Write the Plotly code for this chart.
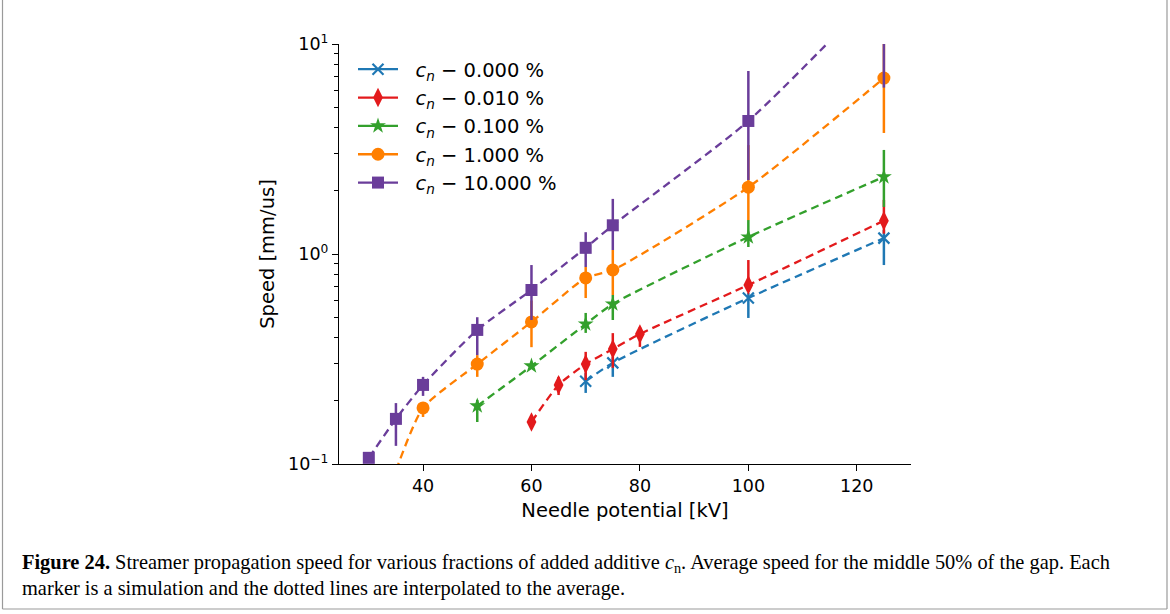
import plotly.graph_objects as go

# ---- data ----
kv_c0 = [70, 75, 100, 125]
sp_c0 = [0.248, 0.303, 0.617, 1.19]
hi_c0 = [0.271, 0.323, 0.652, 1.30]
lo_c0 = [0.218, 0.260, 0.496, 0.886]

kv_c001 = [60, 65, 70, 75, 80, 100, 125]
sp_c001 = [0.1585, 0.238, 0.299, 0.353, 0.416, 0.712, 1.44]
hi_c001 = [0.165, 0.260, 0.342, 0.420, 0.449, 0.936, 1.81]
lo_c001 = [0.152, 0.213, 0.251, 0.287, 0.361, 0.674, 1.25]

kv_c01 = [50, 60, 70, 75, 100, 125]
sp_c01 = [0.189, 0.293, 0.464, 0.578, 1.205, 2.33]
hi_c01 = [0.202, 0.307, 0.524, 0.638, 1.452, 3.13]
lo_c01 = [0.1585, 0.2865, 0.421, 0.485, 1.08, 1.675]

kv_c1 = [35, 40, 50, 60, 70, 75, 100, 125]
sp_c1 = [0.093, 0.185, 0.299, 0.475, 0.769, 0.839, 2.08, 6.88]
hi_c1 = [0.099, 0.197, 0.330, 0.600, 0.867, 1.045, 3.30, 10.5]
lo_c1 = [0.085, 0.1675, 0.260, 0.360, 0.617, 0.638, 1.45, 3.77]

kv_c10 = [30, 35, 40, 50, 60, 70, 75, 100, 125]
sp_c10 = [0.107, 0.164, 0.238, 0.435, 0.674, 1.07, 1.37, 4.30, 19.0]
hi_c10 = [0.112, 0.195, 0.260, 0.500, 0.886, 1.27, 1.83, 7.44, 30.0]
lo_c10 = [0.102, 0.122, 0.211, 0.330, 0.485, 0.867, 1.045, 2.25, 6.2]

labels = ["0.000", "0.010", "0.100", "1.000", "10.000"]
x_ticks = [40, 60, 80, 100, 120]
y_ticks = [0.1, 1, 10]
y_ticktext = ["10<sup>−1</sup>", "10<sup>0</sup>", "10<sup>1</sup>"]
y_minor = [0.2, 0.3, 0.4, 0.5, 0.6, 0.7, 0.8, 0.9, 2, 3, 4, 5, 6, 7, 8, 9]

series = [
    (kv_c0, sp_c0, hi_c0, lo_c0, "#1f78b4", "x-thin", 11),
    (kv_c001, sp_c001, hi_c001, lo_c001, "#e31a1c", "diamond-tall", 14),
    (kv_c01, sp_c01, hi_c01, lo_c01, "#33a02c", "star", 12),
    (kv_c1, sp_c1, hi_c1, lo_c1, "#ff7f00", "circle", 13),
    (kv_c10, sp_c10, hi_c10, lo_c10, "#6a3d9a", "square", 12),
]

FONT = "DejaVu Sans"
L, R, T, B = 339, 911, 44, 464  # plot area in pixels
W, H = 1170, 614


def px_x(px):
    return (px - L) / (R - L)


def px_y(py):
    return (B - py) / (B - T)


fig = go.Figure()

for (kv, sp, hi, lo, col, sym, size), lab in zip(series, labels):
    name = f"&nbsp;&nbsp;<i>c</i><sub><i>n</i></sub> − {lab} %"
    fig.add_trace(go.Scatter(x=kv, y=sp, mode="lines", showlegend=False,
                             line=dict(color=col, width=2.3, dash="8px,5px", shape="spline", smoothing=0.6),
                             hoverinfo="skip"))
    marker = dict(color=col, size=size, symbol=sym, line=dict(width=0, color=col))
    if sym == "x-thin":
        marker["line"] = dict(width=2.2, color=col)
    fig.add_trace(go.Scatter(
        x=kv, y=sp, mode="markers", showlegend=False, marker=marker,
        error_y=dict(type="data", symmetric=False,
                     array=[h - s for h, s in zip(hi, sp)],
                     arrayminus=[s - l for s, l in zip(sp, lo)],
                     color=col, thickness=2.5, width=0)))
    fig.add_trace(go.Scatter(x=[None], y=[None], mode="lines+markers", name=name,
                             line=dict(color=col, width=2.3), marker=marker))

fig.update_layout(
    width=W, height=H,
    paper_bgcolor="white", plot_bgcolor="white",
    margin=dict(l=L, r=W - R, t=T, b=H - B, autoexpand=False),
    font=dict(family=FONT, size=17, color="black"),
    legend=dict(x=px_x(353), y=px_y(50), xanchor="left", yanchor="top",
                bgcolor="rgba(255,255,255,0)", font=dict(family=FONT, size=19.5),
                itemwidth=40, tracegroupgap=0),
    showlegend=True,
)

fig.update_xaxes(range=[24.5, 130], tickvals=x_ticks, ticks="outside", ticklen=6,
                 tickwidth=1.3, tickcolor="black", showline=True, linecolor="black",
                 linewidth=1.3, showgrid=False, zeroline=False, mirror=False, automargin=False,
                 tickfont=dict(family=FONT, size=17.5),
                 title=dict(text="Needle potential [kV]", standoff=8, font=dict(family=FONT, size=19.5)))
fig.update_yaxes(type="log", range=[-1, 1], tickvals=y_ticks, ticktext=y_ticktext,
                 ticks="outside", ticklen=6, tickwidth=1.3, tickcolor="black",
                 minor=dict(tickvals=y_minor, ticks="outside", ticklen=3.5, tickwidth=1, tickcolor="black"),
                 showline=True, linecolor="black", linewidth=1.3, showgrid=False, zeroline=False,
                 automargin=False, tickfont=dict(family=FONT, size=17.5),
                 title=dict(text="Speed [mm/us]", standoff=8, font=dict(family=FONT, size=19.5)))

# figure frame (left, right, bottom)
for x0, y0, x1, y1 in [(2.5, 0, 2.5, 609), (1167, 0, 1167, 609), (2.5, 609, 1167, 609)]:
    fig.add_shape(type="line", xref="paper", yref="paper",
                  x0=px_x(x0), y0=px_y(y0), x1=px_x(x1), y1=px_y(y1),
                  line=dict(color="#9a9a9a", width=1.2))

# caption
cap1 = ("<b>Figure 24.</b> Streamer propagation speed for various fractions of added additive "
        "<i>c</i><sub>n</sub>. Average speed for the middle 50% of the gap. Each")
cap2 = "marker is a simulation and the dotted lines are interpolated to the average."
for txt, ypx in [(cap1, 563), (cap2, 588)]:
    fig.add_annotation(text=txt, xref="paper", yref="paper", showarrow=False,
                       x=px_x(20), y=px_y(ypx), xanchor="left", yanchor="middle",
                       font=dict(family="Liberation Serif", size=20.4, color="black"))

fig.write_html("out.html", config={"displayModeBar": False},
               post_script="document.body.style.margin='0';")
